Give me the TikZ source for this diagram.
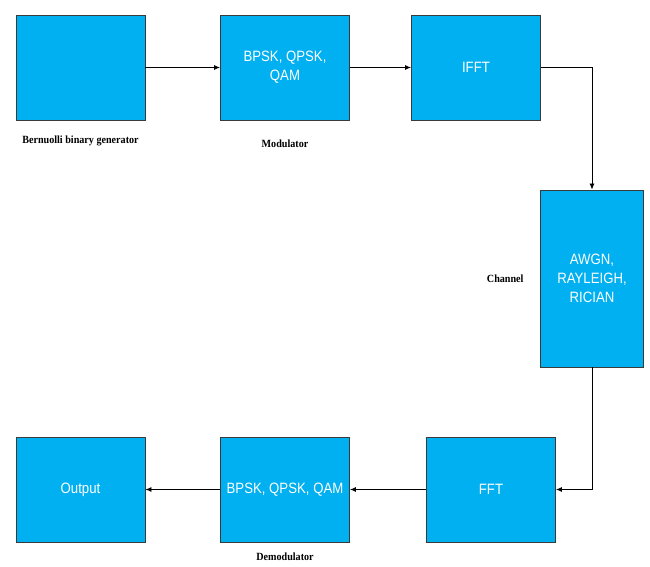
\documentclass[tikz,border=0pt]{standalone}
\usepackage{fontspec}
\setmainfont{Liberation Serif}[FakeStretch=0.92]
\setsansfont{Liberation Sans}[FakeStretch=0.88]
\usetikzlibrary{positioning, arrows.meta}

\definecolor{boxblue}{HTML}{00B0F0}
\definecolor{boxedge}{HTML}{3A3A3A}

\begin{document}
\begin{tikzpicture}[
      x=1pt, y=-1pt,
      block/.style={rectangle, draw=boxedge, fill=boxblue, line width=0.9pt,
      minimum width=129pt, minimum height=105pt, align=center,
      text=white, font=\sffamily\fontsize{15}{19}\selectfont},
      caption/.style={font=\bfseries\fontsize{11}{13}\selectfont},
      line/.style={draw, -{Latex[length=6pt, width=5pt]}, line width=0.8pt}
    ]
    \useasboundingbox (0,0) rectangle (650,567);

    % transmitter chain
    \node [block] (gen) at (80.5,67.5) {};
    \node [block] (mod) at (285,67.5) {BPSK, QPSK,\\QAM};
    \node [block] (ifft) at (476,67.5) {IFFT};

    % channel
    \node [block, minimum width=103pt, minimum height=177pt] (chan)
      at (592,278.5) {AWGN,\\RAYLEIGH,\\RICIAN};

    % receiver chain
    \node [block] (fft) at (491,489.5) {FFT};
    \node [block] (demod) at (285,489.5) {BPSK, QPSK, QAM};
    \node [block] (out) at (80.5,489.5) {Output};

    % captions
    \node [caption, below=12pt of gen] (genlbl) {Bernuolli binary generator};
    \node [caption, below=16pt of mod] (modlbl) {Modulator};
    \node [caption, left=13pt of chan] (chanlbl) {Channel};
    \node [caption, below=7pt of demod] (demodlbl) {Demodulator};

    \path [line] (gen) -- (mod);
    \path [line] (mod) -- (ifft);
    \path [line] (ifft.east) -| (chan.north);
    \path [line] (chan.south) |- (fft.east);
    \path [line] (fft) -- (demod);
    \path [line] (demod) -- (out);
  \end{tikzpicture}
\end{document}
